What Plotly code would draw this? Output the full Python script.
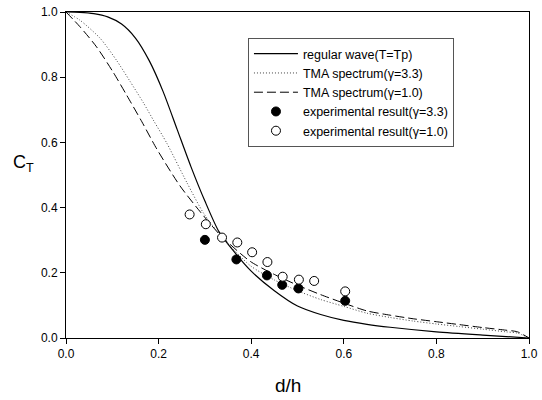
import plotly.graph_objects as go

# Curves
reg_x = [0, 0.03, 0.06, 0.09, 0.12, 0.15, 0.18, 0.21, 0.24, 0.27, 0.30, 0.33, 0.36, 0.40, 0.45, 0.50, 0.55, 0.60, 0.65, 0.70, 0.80, 0.90, 1.0]
reg_y = [1.0, 0.999, 0.995, 0.985, 0.963, 0.92, 0.85, 0.755, 0.64, 0.525, 0.42, 0.327, 0.27, 0.205, 0.145, 0.098, 0.072, 0.054, 0.042, 0.033, 0.019, 0.009, 0.0]

tma33_x = [0, 0.03, 0.074, 0.11, 0.138, 0.167, 0.19, 0.218, 0.261, 0.297, 0.333, 0.398, 0.45, 0.50, 0.55, 0.60, 0.65, 0.70, 0.75, 0.80, 0.85, 0.90, 0.95, 0.975, 1.0]
tma33_y = [1.0, 0.975, 0.919, 0.85, 0.788, 0.722, 0.665, 0.597, 0.477, 0.383, 0.316, 0.222, 0.178, 0.145, 0.118, 0.097, 0.076, 0.063, 0.052, 0.043, 0.035, 0.027, 0.019, 0.015, 0.0]

tma10_x = [0, 0.03, 0.066, 0.102, 0.131, 0.164, 0.196, 0.246, 0.29, 0.333, 0.398, 0.45, 0.50, 0.55, 0.60, 0.65, 0.70, 0.75, 0.80, 0.85, 0.90, 0.95, 0.975, 1.0]
tma10_y = [1.0, 0.955, 0.893, 0.815, 0.745, 0.663, 0.58, 0.467, 0.387, 0.316, 0.235, 0.195, 0.162, 0.133, 0.107, 0.083, 0.070, 0.059, 0.050, 0.041, 0.032, 0.024, 0.019, 0.0]

# Experimental
exp33_x = [0.300, 0.368, 0.434, 0.467, 0.502, 0.603]
exp33_y = [0.301, 0.241, 0.192, 0.163, 0.152, 0.114]

exp10_x = [0.267, 0.302, 0.337, 0.370, 0.402, 0.435, 0.468, 0.503, 0.536, 0.603]
exp10_y = [0.379, 0.349, 0.308, 0.293, 0.263, 0.233, 0.188, 0.179, 0.175, 0.143]

xticks = [0.0, 0.2, 0.4, 0.6, 0.8, 1.0]
yticks = [0.0, 0.2, 0.4, 0.6, 0.8, 1.0]

FONT = "Arial, Liberation Sans, sans-serif"

fig = go.Figure()
fig.add_trace(go.Scatter(x=reg_x, y=reg_y, mode="lines", name="regular wave(T=Tp)",
                         line=dict(color="black", width=1.2, shape="spline", smoothing=0.7)))
fig.add_trace(go.Scatter(x=tma33_x, y=tma33_y, mode="lines", name="TMA spectrum(γ=3.3)",
                         line=dict(color="#444444", width=1, dash="1px,2px", shape="spline", smoothing=0.7)))
fig.add_trace(go.Scatter(x=tma10_x, y=tma10_y, mode="lines", name="TMA spectrum(γ=1.0)",
                         line=dict(color="black", width=1, dash="9px,4px", shape="spline", smoothing=0.7)))
fig.add_trace(go.Scatter(x=exp33_x, y=exp33_y, mode="markers", name="experimental result(γ=3.3)",
                         marker=dict(symbol="circle", size=9, color="black", line=dict(color="black", width=1))))
fig.add_trace(go.Scatter(x=exp10_x, y=exp10_y, mode="markers", name="experimental result(γ=1.0)",
                         marker=dict(symbol="circle", size=9, color="white", line=dict(color="black", width=1))))

fig.update_layout(
    width=542, height=400,
    margin=dict(l=66, r=13, t=12, b=62, autoexpand=False),
    paper_bgcolor="white", plot_bgcolor="white",
    font=dict(family=FONT, size=12, color="black"),
    showlegend=True,
    legend=dict(x=0.393, y=0.92, xanchor="left", yanchor="top",
                bordercolor="#555555", borderwidth=1, bgcolor="white",
                font=dict(family=FONT, size=12.5), tracegroupgap=0, itemwidth=44),
    xaxis=dict(range=[0, 1.0], tickvals=xticks, ticktext=[f"{v:.1f}" for v in xticks],
               showgrid=False, zeroline=False, showline=True, linecolor="black", linewidth=1,
               mirror=True, ticks="outside", ticklen=5, tickcolor="black", automargin=False,
               tickfont=dict(family=FONT, size=12)),
    yaxis=dict(range=[0, 1.0], tickvals=yticks, ticktext=[f"{v:.1f}" for v in yticks],
               showgrid=False, zeroline=False, showline=True, linecolor="black", linewidth=1,
               mirror=True, ticks="outside", ticklen=5, tickcolor="black", automargin=False,
               tickfont=dict(family=FONT, size=12)),
    annotations=[
        dict(text="d/h", xref="paper", yref="paper", x=0.479, y=-0.147, xanchor="center", yanchor="middle",
             showarrow=False, font=dict(family=FONT, size=19)),
        dict(text="C<sub>T</sub>", xref="paper", yref="paper", x=-0.091, y=0.535, xanchor="center", yanchor="middle",
             showarrow=False, font=dict(family=FONT, size=18)),
    ],
)

fig.write_html("out.html")
